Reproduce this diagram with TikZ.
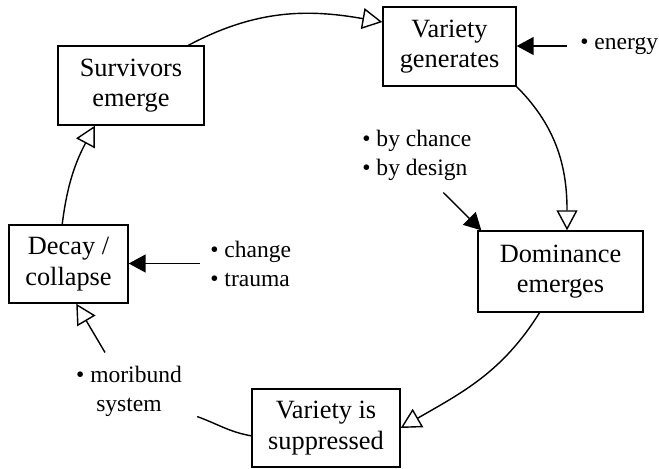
\documentclass[tikz,border=0pt]{standalone}
\usepackage{fontspec}
\setmainfont{Liberation Serif}
\usetikzlibrary{arrows.meta}

\tikzset{
  stage/.style={draw, line width=0.8pt, align=center, minimum height=1.58cm, inner sep=2pt, font=\fontsize{15}{17.5}\selectfont},
  note/.style={align=left, inner sep=0pt, font=\fontsize{13.4}{16.5}\selectfont},
  loopar/.style={line width=0.8pt, -{Triangle[open, length=0.4cm, width=0.42cm, line width=0.8pt]}},
  feed/.style={line width=0.8pt, -{Triangle[length=0.34cm, width=0.36cm]}},
}

\begin{document}
\begin{tikzpicture}[x=0.02cm, y=0.02cm]
\useasboundingbox (0,0) rectangle (659,468);
% stages of the cycle
\node[stage, minimum width=2.92cm] (surv) at (131,382.5) {Survivors\\emerge};
\node[stage, minimum width=2.66cm] (vgen) at (449.5,421.5) {Variety\\generates};
\node[stage, minimum width=3.3cm, minimum height=1.62cm] (dom) at (560.5,196.5) {Dominance\\emerges};
\node[stage, minimum width=2.96cm, minimum height=1.56cm] (supp) at (326,40) {Variety is\\suppressed};
\node[stage, minimum width=2.38cm, minimum height=1.56cm] (decay) at (68.5,204) {Decay /\\collapse};
% outside influences
\node[note, anchor=west] (nrg) at (580,422) {\textbullet\ energy};
\node[note, anchor=west] (chc) at (362,313) {\textbullet\ by chance\\\textbullet\ by design};
\node[note, anchor=west] (chg) at (210,204.5) {\textbullet\ change\\\textbullet\ trauma};
\node[note, align=center] (mori) at (129,77) {\textbullet\ moribund\\system};
% the cycle
\draw[loopar] (surv.35) to[out=28, in=170] (vgen.160);
\draw[loopar] (vgen.south east) to[out=-45, in=90] (dom.81);
\draw[loopar] (dom.243) to[out=238, in=30] (supp.east);
\draw[line width=0.8pt] (supp.186) to[out=170, in=-20] ([xshift=0.3cm]mori.south east);
\draw[loopar] ([xshift=-0.48cm, yshift=0.26cm]mori.north) -- (decay.281);
\draw[loopar] (decay.99) to[out=83, in=242] (surv.228);
% influences
\draw[feed] ([xshift=-0.26cm]nrg.west) -- (nrg.west -| vgen.east);
\draw[feed] ([xshift=-0.2cm]chg.west) -- (chg.west -| decay.east);
\draw[feed] ([xshift=0.53cm, yshift=-0.24cm]chc.south) -- ([xshift=0.08cm]dom.north west);
\end{tikzpicture}
\end{document}
